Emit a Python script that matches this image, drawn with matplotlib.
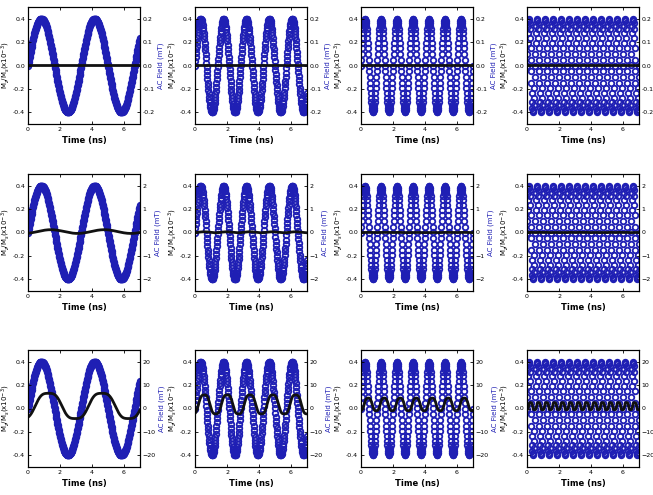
import numpy as np
import matplotlib
matplotlib.use("Agg")
import matplotlib.pyplot as plt

# drive frequencies (GHz) for each column and AC field amplitude (mT) for each row
freqs_ghz = [0.3, 0.7, 1.0, 2.0]
field_amp_mt = [0.2, 2.0, 20.0]
field_ticks = [[-0.2, -0.1, 0.0, 0.1, 0.2],
               [-2, -1, 0, 1, 2],
               [-20, -10, 0, 10, 20]]
mz_ticks = [-0.4, -0.2, 0.0, 0.2, 0.4]
time_ticks = [0, 2, 4, 6]

# response of Mz/Ms (x1e-3): [offset, amplitude, lag (ns), 3rd harmonic ratio]
response = [
    [[0, 0, 0, 0], [0, 0, 0, 0], [0, 0, 0, 0], [0, 0, 0, 0]],
    [[0.008, 0.016, 0.6, 0.0], [0.002, 0.004, 0.2, 0.0], [0, 0.001, 0.1, 0], [0, 0.001, 0.1, 0]],
    [[0.022, 0.12, 0.45, 0.1], [0.035, 0.09, 0.22, 0.1], [0.035, 0.06, 0.2, 0.1], [0.02, 0.035, 0.1, 0.15]],
]

t = np.arange(0, 7.001, 0.02)
t_fine = np.arange(0, 7.001, 0.005)
blue = "#1f1fb4"

fig = plt.figure(figsize=(6.53, 4.95), dpi=100)
W, H = 653.0, 495.0
col_left = [28, 195, 361, 527]
row_top = [7, 174, 350]
aw, ah = 112, 117

for r in range(3):
    for c in range(4):
        ax = fig.add_axes([col_left[c] / W, 1 - (row_top[r] + ah) / H, aw / W, ah / H])
        ax2 = ax.twinx()
        f = freqs_ghz[c]
        amp = field_amp_mt[r]
        field = amp * np.sin(2 * np.pi * f * t)
        ax2.plot(t, field, ls="none", marker="o", ms=4.0, mfc="none",
                 mec=blue, mew=1.3)
        off, a, lag, h3 = response[r][c]
        ph = 2 * np.pi * f * (t_fine - lag)
        mz = off + a * (np.sin(ph) + h3 * np.sin(3 * ph))
        ax.plot(t_fine, mz, color="#111111", lw=2.0)
        ax.set_zorder(ax2.get_zorder() + 1)
        ax.patch.set_visible(False)

        ax.set_xlim(0, 7)
        ax.set_ylim(-0.5, 0.5)
        ax2.set_ylim(-1.25 * amp, 1.25 * amp)
        ax.set_xticks(time_ticks)
        ax.set_yticks(mz_ticks)
        ax.set_yticklabels(["-0.4", "-0.2", "0.0", "0.2", "0.4"])
        ax2.set_yticks(field_ticks[r])
        if r == 0:
            ax2.set_yticklabels(["-0.2", "-0.1", "0.0", "0.1", "0.2"])
        ax.tick_params(labelsize=4.5, direction="in", length=2, width=0.6, top=True, pad=2)
        ax2.tick_params(labelsize=4.5, direction="in", length=2, width=0.6, pad=2)
        for sp in ax.spines.values():
            sp.set_linewidth(0.8)
        ax.set_xlabel("Time (ns)", fontsize=6, fontweight="bold", labelpad=3)
        ax.set_ylabel(r"M$_z$/M$_s$(x10$^{-3}$)", fontsize=5, labelpad=1)
        ax2.set_ylabel("AC Field (mT)", fontsize=5, color=blue, labelpad=2)

fig.savefig("out.png", dpi=100)
